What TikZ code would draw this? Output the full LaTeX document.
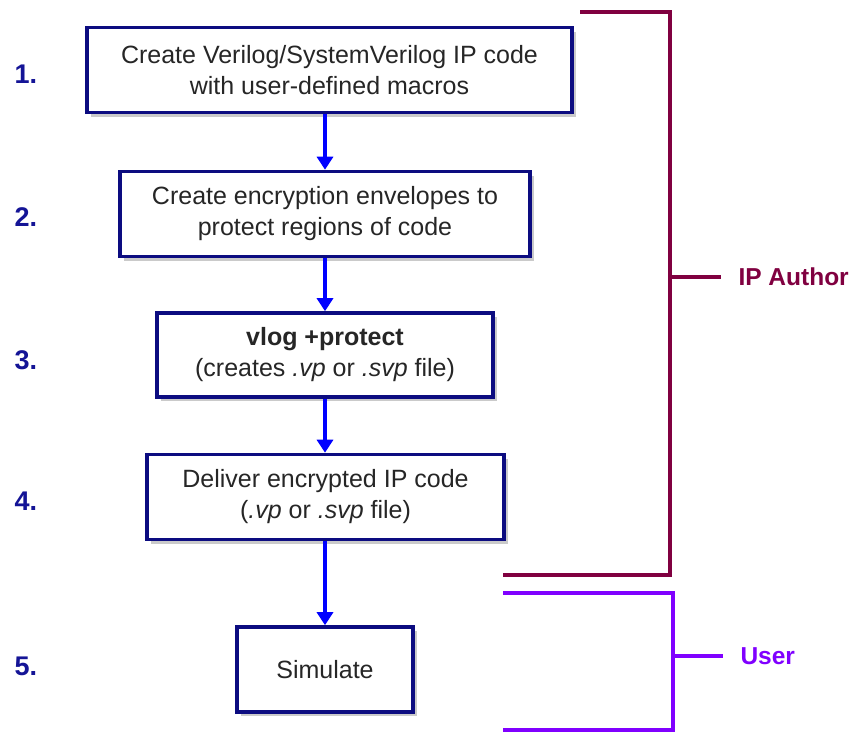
\documentclass[tikz,border=0pt]{standalone}
\usepackage{fontspec}
\setmainfont{Liberation Sans}
\usetikzlibrary{arrows.meta,shadows}
\definecolor{boxnavy}{HTML}{0C0C80}
\definecolor{numblue}{HTML}{141496}
\definecolor{flowblue}{HTML}{0000FF}
\definecolor{authorred}{HTML}{800040}
\definecolor{userviolet}{HTML}{8000FF}
\tikzset{
  stepbox/.style={draw=boxnavy, line width=3.6pt, fill=white, inner sep=0pt,
    align=center, font=\fontsize{25}{31}\selectfont, text=black!85,
    drop shadow={shadow xshift=4pt, shadow yshift=-4pt, opacity=0.35, fill=black!60}},
  stepnum/.style={font=\bfseries\fontsize{27}{30}\selectfont, text=numblue, anchor=west},
  flow/.style={draw=flowblue, line width=3.2pt, -{Triangle[width=16pt,length=13pt]}},
  bracket/.style={line width=3.2pt},
  rolelabel/.style={font=\bfseries\fontsize{24.5}{26}\selectfont, anchor=west}
}
\begin{document}
\begin{tikzpicture}[x=1pt,y=-1pt]
  \useasboundingbox (0,0) rectangle (851,732);

  % process steps
  \node[stepbox, minimum width=485pt, minimum height=85pt] (s1) at (329.5,70)
    {Create Verilog/SystemVerilog IP code\\with user-defined macros};
  \node[stepbox, minimum width=410pt, minimum height=85pt] (s2) at (325,214)
    {Create encryption envelopes to\\protect regions of code};
  \node[stepbox, minimum width=336pt, minimum height=84pt] (s3) at (325,355)
    {\textbf{vlog +protect}\\(creates \textit{.vp} or \textit{.svp} file)};
  \node[stepbox, minimum width=357pt, minimum height=85pt] (s4) at (325.5,497)
    {Deliver encrypted IP code\\(\textit{.vp} or \textit{.svp} file)};
  \node[stepbox, minimum width=176pt, minimum height=85pt] (s5) at (325,669.5)
    {Simulate};

  % step numbers
  \node[stepnum] (n1) at (11,74) {1.};
  \node[stepnum] (n2) at (11,217) {2.};
  \node[stepnum] (n3) at (11,360) {3.};
  \node[stepnum] (n4) at (11,501) {4.};
  \node[stepnum] (n5) at (11,666) {5.};

  % flow arrows, all on the common centre line of the steps
  \draw[flow] (s1.south -| s2.north) -- (s2.north);
  \draw[flow] (s2.south) -- (s3.north);
  \draw[flow] (s3.south) -- (s4.north -| s3.south);
  \draw[flow] (s4.south -| s5.north) -- (s5.north);

  % IP author bracket
  \coordinate (a1) at (580,12);
  \coordinate (a2) at (670,12);
  \coordinate (a3) at (670,575);
  \coordinate (a4) at (503,575);
  \coordinate (am) at (670,277);
  \node[rolelabel, text=authorred] (la) at (735,277) {IP Author};
  \draw[bracket, draw=authorred] (a1) -- (a2) -- (a3) -- (a4);
  \draw[bracket, draw=authorred] (am) -- ([xshift=-14pt]la.west);

  % user bracket
  \coordinate (u1) at (503,593);
  \coordinate (u2) at (673,593);
  \coordinate (u3) at (673,730);
  \coordinate (u4) at (503,730);
  \coordinate (um) at (673,656);
  \node[rolelabel, text=userviolet] (lu) at (737,656) {User};
  \draw[bracket, draw=userviolet] (u1) -- (u2) -- (u3) -- (u4);
  \draw[bracket, draw=userviolet] (um) -- ([xshift=-14pt]lu.west);
\end{tikzpicture}
\end{document}
